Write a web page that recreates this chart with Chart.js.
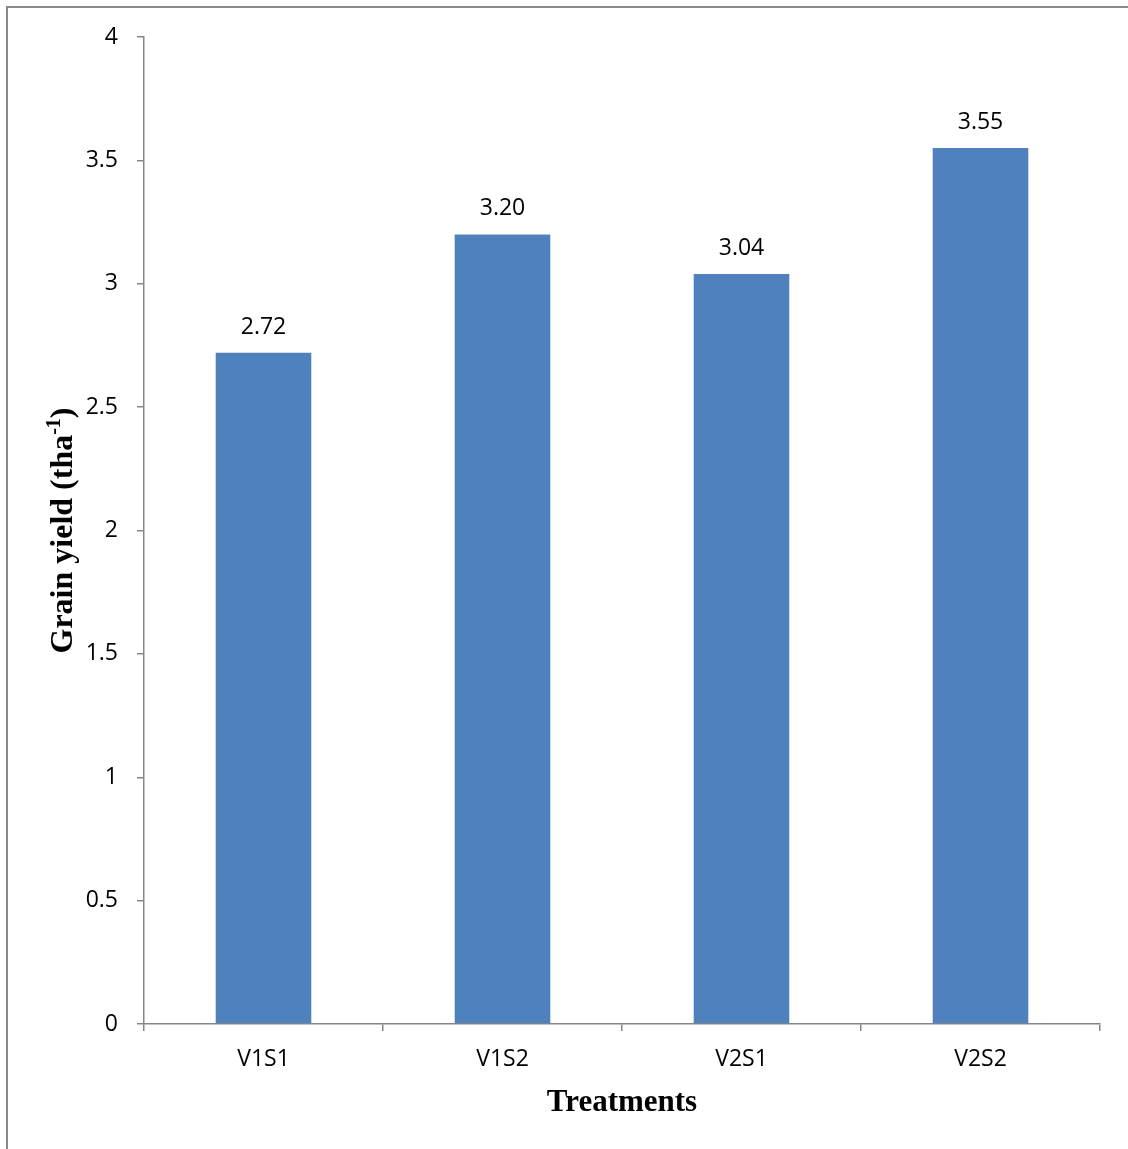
<!DOCTYPE html>
<html>
<head>
<meta charset="utf-8">
<script src="https://cdn.jsdelivr.net/npm/chart.js@4.4.1/dist/chart.umd.min.js"></script>
<style>
  html, body { margin: 0; padding: 0; background: #fff; }
  #wrap { position: relative; width: 1128px; height: 1149px; }
  canvas { display: block; }
</style>
</head>
<body>
<div id="wrap"><canvas id="c" width="1128" height="1149"></canvas></div>
<script>
const categories = ['V1S1', 'V1S2', 'V2S1', 'V2S2'];
const grainYield = [2.72, 3.20, 3.04, 3.55];
const valueLabels = ['2.72', '3.20', '3.04', '3.55'];
const yTicks = [0, 0.5, 1, 1.5, 2, 2.5, 3, 3.5, 4];
const xTitle = 'Treatments';
const yTitleMain = 'Grain yield (tha';
const yTitleSup = '-1';
const yTitleEnd = ')';

const AXIS = '#868686';
const TICK_FONT = { family: '"Open Sans", "Noto Sans", sans-serif', size: 23 };

const decor = {
  id: 'decor',
  beforeDraw(chart) {
    const ctx = chart.ctx;
    ctx.save();
    ctx.strokeStyle = '#8a8a8a';
    ctx.lineWidth = 2;
    ctx.beginPath();
    ctx.moveTo(7, chart.height + 2);
    ctx.lineTo(7, 7);
    ctx.lineTo(chart.width + 2, 7);
    ctx.stroke();
    ctx.restore();
  },
  afterDraw(chart) {
    const ctx = chart.ctx;
    const area = chart.chartArea;
    ctx.save();
    ctx.fillStyle = '#000';
    ctx.font = '23px "Open Sans", "Noto Sans", sans-serif';
    ctx.textAlign = 'center';
    ctx.textBaseline = 'alphabetic';
    const meta = chart.getDatasetMeta(0);
    meta.data.forEach((bar, i) => {
      ctx.fillText(valueLabels[i], bar.x, bar.y - 19);
    });
    ctx.font = 'bold 31px "Liberation Serif", "Times New Roman", serif';
    ctx.textAlign = 'center';
    ctx.fillText(xTitle, (area.left + area.right) / 2, area.bottom + 87);
    const cy = (area.top + area.bottom) / 2;
    ctx.translate(area.left - 72, cy);
    ctx.rotate(-Math.PI / 2);
    const mainFont = 'bold 32px "Liberation Serif", "Times New Roman", serif';
    const supFont = 'bold 20px "Liberation Serif", "Times New Roman", serif';
    ctx.font = mainFont;
    const w1 = ctx.measureText(yTitleMain).width;
    const w3 = ctx.measureText(yTitleEnd).width;
    ctx.font = supFont;
    const w2 = ctx.measureText(yTitleSup).width;
    const total = w1 + w2 + w3;
    let x = -total / 2;
    ctx.textAlign = 'left';
    ctx.font = mainFont;
    ctx.fillText(yTitleMain, x, 0);
    x += w1;
    ctx.font = supFont;
    ctx.fillText(yTitleSup, x, -12);
    x += w2;
    ctx.font = mainFont;
    ctx.fillText(yTitleEnd, x, 0);
    ctx.restore();
  }
};

new Chart(document.getElementById('c'), {
  type: 'bar',
  data: {
    labels: categories,
    datasets: [{
      data: grainYield,
      backgroundColor: '#4F81BD',
      borderWidth: 0,
      barPercentage: 0.4,
      categoryPercentage: 1.0
    }]
  },
  options: {
    responsive: false,
    animation: false,
    devicePixelRatio: 1,
    layout: { padding: { top: 37, right: 28, left: 0, bottom: 0 } },
    plugins: { legend: { display: false }, tooltip: { enabled: false } },
    scales: {
      x: {
        grid: { display: true, drawOnChartArea: false, drawTicks: true, tickLength: 7, color: AXIS, lineWidth: 1.5, offset: true },
        border: { display: true, color: AXIS, width: 1.5 },
        ticks: { color: '#000', font: TICK_FONT, padding: 15, maxRotation: 0 },
        afterFit(scale) { scale.height = 125; }
      },
      y: {
        min: 0, max: 4,
        afterBuildTicks(scale) { scale.ticks = yTicks.map(v => ({ value: v })); },
        grid: { display: true, drawOnChartArea: false, drawTicks: true, tickLength: 7, color: AXIS, lineWidth: 1.5 },
        border: { display: true, color: AXIS, width: 1.5 },
        ticks: { color: '#000', font: TICK_FONT, padding: 19, callback: v => String(v) },
        afterFit(scale) { scale.width = 144; }
      }
    }
  },
  plugins: [decor]
});
</script>
</body>
</html>
